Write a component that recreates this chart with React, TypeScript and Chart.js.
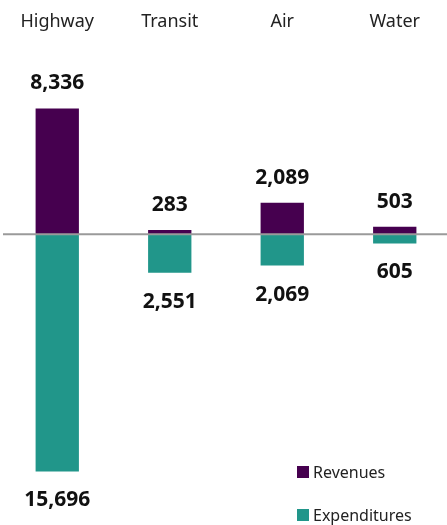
import React, { useEffect, useRef } from "react";
import { Chart, registerables } from "chart.js";

Chart.register(...registerables);

const categories = ["Highway", "Transit", "Air", "Water"];
const revenues = [8336, 283, 2089, 503];
const expenditures = [15696, 2551, 2069, 605];
const seriesNames = ["Revenues", "Expenditures"];
const colors = ["#46004f", "#21968a"];
const FONT = "'Noto Sans', 'Open Sans', sans-serif";

const fmt = (v: number) => Math.abs(v).toLocaleString("en-US");

const customPlugin = {
  id: "custom",
  afterDatasetsDraw(chart: any) {
    const { ctx, chartArea, scales } = chart;
    const y0 = scales.y.getPixelForValue(0);
    ctx.save();
    // zero line
    ctx.strokeStyle = "#9a9a9a";
    ctx.lineWidth = 2;
    ctx.beginPath();
    ctx.moveTo(chartArea.left + 2, y0);
    ctx.lineTo(chartArea.right, y0);
    ctx.stroke();
    // value labels
    ctx.fillStyle = "#111";
    ctx.font = `bold 21px ${FONT}`;
    ctx.textAlign = "center";
    ctx.textBaseline = "middle";
    chart.data.datasets.forEach((ds: any, di: number) => {
      const meta = chart.getDatasetMeta(di);
      meta.data.forEach((bar: any, i: number) => {
        const v = ds.data[i];
        if (v >= 0) ctx.fillText(fmt(v), bar.x, bar.y - 25);
        else ctx.fillText(fmt(v), bar.x, bar.y + 29);
      });
    });
    // legend
    ctx.font = `16px ${FONT}`;
    ctx.textAlign = "left";
    chart.data.datasets.forEach((ds: any, di: number) => {
      const ly = 472 + di * 43;
      ctx.fillStyle = ds.backgroundColor;
      ctx.fillRect(297, ly - 6, 12, 12);
      ctx.fillStyle = "#222";
      ctx.fillText(ds.label, 313, ly + 1);
    });
    ctx.restore();
  },
};

export default function App() {
  const ref = useRef<HTMLCanvasElement>(null);
  useEffect(() => {
    if (!ref.current) return;
    const chart = new Chart(ref.current, {
      type: "bar",
      data: {
        labels: categories,
        datasets: [
          {
            label: seriesNames[0],
            data: revenues,
            backgroundColor: colors[0],
          },
          {
            label: seriesNames[1],
            data: expenditures.map((v) => -v),
            backgroundColor: colors[1],
          },
        ],
      },
      options: {
        animation: false,
        responsive: true,
        maintainAspectRatio: false,
        layout: { padding: { top: 11, left: 1, right: 0, bottom: 0 } },
        plugins: { legend: { display: false }, tooltip: { enabled: false } },
        datasets: { bar: { categoryPercentage: 1, barPercentage: 0.385 } },
        scales: {
          x: {
            position: "top",
            stacked: true,
            grid: { display: false },
            border: { display: false },
            ticks: { color: "#222", font: { family: FONT, size: 18 }, padding: 0 },
          },
          y: {
            stacked: true,
            display: false,
            min: -19246,
            max: 12824,
          },
        },
      },
      plugins: [customPlugin],
    });
    return () => chart.destroy();
  }, []);
  return (
    <div style={{ position: "fixed", left: 0, top: 0, width: 447, height: 525, overflow: "hidden", background: "#fff" }}>
      <div style={{ position: "relative", width: 451, height: 525 }}>
        <canvas ref={ref} />
      </div>
    </div>
  );
}
